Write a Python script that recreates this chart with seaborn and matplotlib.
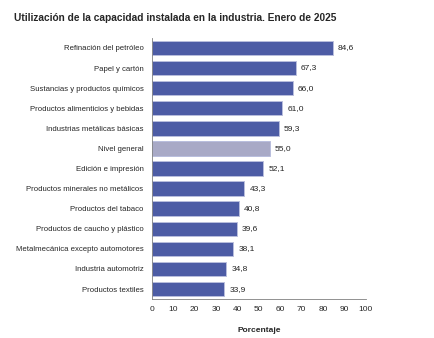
import matplotlib
matplotlib.use("Agg")
import matplotlib.pyplot as plt
import seaborn as sns
import pandas as pd
import numpy as np
from matplotlib.ticker import MultipleLocator, FixedLocator

categories = [
    "Refinación del petróleo",
    "Papel y cartón",
    "Sustancias y productos químicos",
    "Productos alimenticios y bebidas",
    "Industrias metálicas básicas",
    "Nivel general",
    "Edición e impresión",
    "Productos minerales no metálicos",
    "Productos del tabaco",
    "Productos de caucho y plástico",
    "Metalmecánica excepto automotores",
    "Industria automotriz",
    "Productos textiles",
]
values = [84.6, 67.3, 66.0, 61.0, 59.3, 55.0, 52.1, 43.3, 40.8, 39.6, 38.1, 34.8, 33.9]
highlight = "Nivel general"

title = "Utilización de la capacidad instalada en la industria. Enero de 2025"
xlabel = "Porcentaje"

df = pd.DataFrame({"cat": categories, "val": values})
df["grp"] = np.where(df["cat"] == highlight, "g", "s")

sns.set_style("white")
plt.rcParams["font.family"] = ["Liberation Sans", "DejaVu Sans"]

fig = plt.figure(figsize=(4.35, 3.38), dpi=100)
ax = fig.add_axes([0.349, 0.115, 0.492, 0.773])

sns.barplot(data=df, x="val", y="cat", hue="grp", orient="h", dodge=False,
            palette={"s": "#4D5CA5", "g": "#A8A9C6"}, saturation=1, width=0.72,
            edgecolor="#B9BEDD", linewidth=0.7, legend=False, ax=ax)

for i, v in enumerate(values):
    ax.text(v + 2.3, i, f"{v:.1f}".replace(".", ","), va="center", ha="left",
            fontsize=6, color="#222222")

ax.set_xlim(0, 100)
ax.set_ylim(len(categories) - 0.5, -0.5)
ax.xaxis.set_major_locator(MultipleLocator(10))
ax.set_xlabel(xlabel, fontsize=6, fontweight="bold", labelpad=10)
ax.set_ylabel("")
ax.tick_params(axis="x", labelsize=6, length=3, width=0.6, color="#808080", pad=2)
ax.tick_params(axis="y", which="major", labelsize=5.6, length=0, pad=6)
ax.yaxis.set_minor_locator(FixedLocator(np.arange(-0.5, len(categories), 1.0)))
ax.tick_params(axis="y", which="minor", length=3, width=0.6, color="#808080")
for s in ["top", "right"]:
    ax.spines[s].set_visible(False)
for s in ["left", "bottom"]:
    ax.spines[s].set_color("#808080")
    ax.spines[s].set_linewidth(0.6)

fig.text(0.032, 0.948, title, fontsize=7.3, fontweight="bold", ha="left", va="center",
         family=["Liberation Sans Narrow", "Liberation Sans", "DejaVu Sans"])

fig.savefig("out.png", dpi=100)
